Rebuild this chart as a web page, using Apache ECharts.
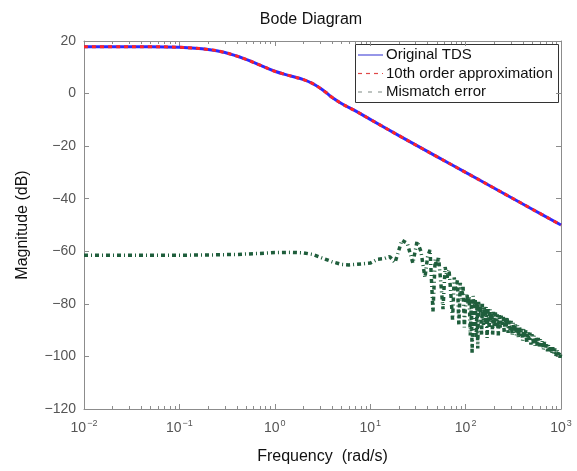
<!DOCTYPE html>
<html><head><meta charset="utf-8">
<script src="https://cdn.jsdelivr.net/npm/echarts@6/dist/echarts.min.js"></script>
<style>html,body{margin:0;padding:0;background:#fff}#c{width:577px;height:471px}</style>
</head><body><div id="c"></div>
<script>
// ---- data ----
const tdsFreq = [0.01,0.02,0.05,0.1,0.2,0.3,0.5,0.7,1,1.5,2,2.5,3,3.5,4,5,7,10,20,50,100,200,500,1000];
const tdsMag  = [17.8,17.8,17.8,17.6,16.8,15.6,13.0,10.8,8.5,6.6,5.3,3.8,2.0,0.2,-1.5,-3.8,-6.6,-9.8,-16,-24,-30,-36,-44,-50];
const approxFreq = [0.01,0.02,0.05,0.1,0.2,0.3,0.5,0.7,1,1.5,2,2.5,3,3.5,4,5,7,10,20,50,100,200,500,1000];
const approxMag  = [17.8,17.8,17.8,17.6,16.8,15.6,13.0,10.8,8.5,6.6,5.3,3.8,2.0,0.2,-1.5,-3.8,-6.6,-9.8,-16,-24,-30,-36,-44,-50];
const errFreq = [0.01,0.02,0.05,0.1,0.2,0.4,0.7,1.0,1.5,2.0,2.5,3,4,5,6,8,10,12,14,16,18.2,21.5,24.5,28,31,34,37.5,40,42.4,45.5,48,50,52,55,58,61,64,67,70,73,76,79,82,85,88,91,94,97,100,103,106,109,112,115,117,120,123,126,129,132,134,137,140,143,147,150,154,157,161,164,168,172,176,180,184,188,192,196,200,205,210,215,220,225,230,236,242,248,254,260,266,272,279,286,293,300,308,316,324,332,340,349,358,367,376,386,396,406,416,427,438,449,460,472,484,496,509,522,535,549,563,577,592,607,622,638,654,671,688,705,723,741,760,779,799,819,840,861,883,905,928,951,975,1000];
const errMag  = [-61.5,-61.5,-61.5,-61.5,-61.4,-61.2,-60.8,-60.5,-60.4,-60.6,-61.2,-62.3,-64,-65,-65.2,-64.8,-64.5,-63,-62.8,-62,-64.3,-55.8,-57,-64.5,-56.2,-60,-70,-62,-59.5,-83,-63,-66,-62,-72,-82,-66,-70,-67,-76,-86,-70,-75,-71,-88,-72,-78,-73,-89,-80,-76,-80,-77,-92,-78,-99,-77,-82,-78,-93,-79,-97,-79,-84,-80,-92,-80,-88,-81,-87,-81,-93,-82,-89,-82,-87,-83,-92,-83,-89,-83,-88,-84,-92,-84,-89,-84.5,-88,-84.5,-91,-85,-89,-85,-91,-86,-90,-86.5,-92,-87,-91,-87.5,-92,-88,-93,-88.5,-92,-89,-94,-89.5,-93,-90,-95,-90.5,-94,-91,-95.5,-91.5,-95,-92,-96,-92.5,-96,-93,-96.5,-93.5,-96,-94,-97.5,-94.5,-97,-95,-98,-95.5,-98,-96,-99,-96.5,-99,-97,-100,-97.5,-99.5,-98,-100.5,-98.5];
const yTicks = [-120,-100,-80,-60,-40,-20,0,20];
const xTicks = [0.01,0.1,1,10,100,1000];
const seriesNames = ['Original TDS','10th order approximation','Mismatch error'];
const legendLineColors = ['#5050d8','#e04848','#7f8a84'];
const legendDash = [null, [4, 4], [4, 6]];

const pairs = (xs, ys) => xs.map((x, i) => [x, ys[i]]);
const minorTicks = [];
for (let d = -2; d <= 2; d++) for (let k = 2; k <= 9; k++) minorTicks.push(+(k * Math.pow(10, d)).toPrecision(3));

const axisGray = '#8c8c8c';
const font = 'Liberation Sans, Arial, Helvetica, sans-serif';
const expFmt = v => { const e = Math.round(Math.log10(v)); return '{b|10}{s|' + (e < 0 ? '\u2212' + (-e) : e) + '}'; };
const logAxis = (pos, ticks, len, line) => ({
  type: 'log', logBase: 10, min: 0.01, max: 1000, position: pos,
  axisLine: {show: line, onZero: false, lineStyle: {color: axisGray}},
  axisTick: {inside: true, length: len, lineStyle: {color: axisGray}, customValues: ticks},
  axisLabel: {show: false}, splitLine: {show: false}
});

// legend box drawn as graphic (box 355,44 203x58)
const legendEls = [{type: 'rect', shape: {x: 355.5, y: 44.5, width: 203, height: 58},
  style: {fill: '#fff', stroke: '#333', lineWidth: 1}}];
seriesNames.forEach((n, i) => {
  const cy = 55 + i * 18.5;
  legendEls.push({type: 'line', shape: {x1: 358, y1: cy, x2: 383, y2: cy},
    style: {stroke: legendLineColors[i], lineWidth: 1.2, lineDash: legendDash[i]}});
  legendEls.push({type: 'text', x: 386, y: cy, style: {text: n, font: '15px ' + font, fill: '#111', textVerticalAlign: 'middle', verticalAlign: 'middle'}});
});

const chart = echarts.init(document.getElementById('c'), null, {renderer: 'canvas'});
chart.setOption({
  backgroundColor: '#fff',
  animation: false,
  textStyle: {fontFamily: font},
  title: {text: 'Bode Diagram', left: 306, top: 7, textAlign: 'center',
    textStyle: {fontSize: 16, fontWeight: 'normal', color: '#111', fontFamily: font}},
  grid: {left: 84, right: 16, top: 41, bottom: 62},
  graphic: [{type: 'group', z: 100, children: legendEls}],
  xAxis: [
    Object.assign(logAxis('bottom', xTicks, 5, true), {
      name: 'Frequency  (rad/s)', nameLocation: 'middle', nameGap: 40,
      nameTextStyle: {fontSize: 16, color: '#111', fontFamily: font},
      axisLabel: {margin: 10, customValues: xTicks, formatter: expFmt,
        rich: {b: {fontSize: 14, color: '#555', fontFamily: font}, s: {fontSize: 9, color: '#555', verticalAlign: 'top', padding: [0,0,10,1], fontFamily: font}}}
    }),
    logAxis('top', xTicks, 5, true),
    logAxis('bottom', minorTicks, 3, false),
    logAxis('top', minorTicks, 3, false)
  ],
  yAxis: [
    {type: 'value', min: -120, max: 20, interval: 20, position: 'left',
      name: 'Magnitude (dB)', nameLocation: 'middle', nameGap: 53, nameRotate: 90,
      nameTextStyle: {fontSize: 16, color: '#111', fontFamily: font},
      axisLine: {show: true, onZero: false, lineStyle: {color: axisGray}},
      axisTick: {show: true, inside: true, length: 5, lineStyle: {color: axisGray}},
      axisLabel: {fontSize: 14, color: '#555', margin: 8, fontFamily: font,
        formatter: v => (v < 0 ? '\u2212' + (-v) : '' + v)},
      splitLine: {show: false}},
    {type: 'value', min: -120, max: 20, interval: 20, position: 'right',
      axisLine: {show: true, onZero: false, lineStyle: {color: axisGray}},
      axisTick: {show: true, inside: true, length: 5, lineStyle: {color: axisGray}},
      axisLabel: {show: false}, splitLine: {show: false}}
  ],
  series: [
    {name: seriesNames[0], type: 'line', xAxisIndex: 0, yAxisIndex: 0, data: pairs(tdsFreq, tdsMag),
      showSymbol: false, symbol: 'none', smooth: 0.4, itemStyle: {color: '#2b2bff'}, lineStyle: {color: '#2b2bff', width: 3}, z: 2},
    {name: seriesNames[1], type: 'line', xAxisIndex: 0, yAxisIndex: 0, data: pairs(approxFreq, approxMag),
      showSymbol: false, symbol: 'none', smooth: 0.4, itemStyle: {color: '#ff2424'}, lineStyle: {color: '#ff2424', width: 3, type: [4, 4]}, z: 3},
    {name: seriesNames[2], type: 'line', xAxisIndex: 0, yAxisIndex: 0, data: pairs(errFreq, errMag),
      showSymbol: false, symbol: 'none', itemStyle: {color: '#1f5e3c'}, lineStyle: {color: '#1f5e3c', width: 3.5, type: [4, 3, 1, 3]}, z: 2}
  ]
});
</script></body></html>
